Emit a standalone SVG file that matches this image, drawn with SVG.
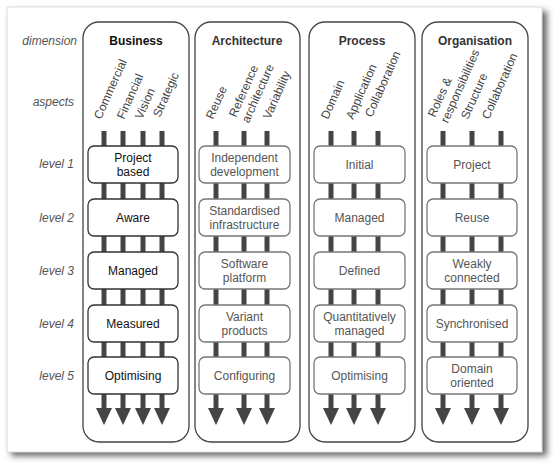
<svg xmlns="http://www.w3.org/2000/svg" width="554" height="465" viewBox="0 0 554 465">
<style>
text{font-family:"Liberation Sans",Arial,sans-serif;font-size:12px}
.side{font-style:italic;fill:#555;text-anchor:end}
.hdr{font-weight:bold;text-anchor:middle;fill:#333}
.cont{fill:none;stroke:#444;stroke-width:1.3}
.box{fill:#fff;stroke:#777;stroke-width:1.3}
.bbox{fill:#fff;stroke:#333;stroke-width:1.3}
.bt{text-anchor:middle;fill:#555}
.bbt{text-anchor:middle;fill:#111}
.asp{fill:#444}
.bar{stroke:#444;stroke-width:5}
.head{fill:#444}
</style>
<defs>
<filter id="sh" x="-5%" y="-5%" width="110%" height="110%"><feGaussianBlur stdDeviation="3"/></filter>
</defs>
<rect x="0" y="0" width="554" height="465" fill="#fff"/>
<rect x="11" y="11" width="536" height="445" fill="#666" filter="url(#sh)"/>
<rect x="7" y="7" width="535" height="445" fill="#fff" stroke="#ddd" stroke-width="1"/>

<g id="side-labels">
<text class="side" x="77" y="45">dimension</text>
<text class="side" x="74" y="106">aspects</text>
<text class="side" x="74" y="168">level 1</text>
<text class="side" x="74" y="222">level 2</text>
<text class="side" x="74" y="275">level 3</text>
<text class="side" x="74" y="328">level 4</text>
<text class="side" x="74" y="380">level 5</text>
</g>

<g id="connectors">
<line class="bar" x1="104" y1="131" x2="104" y2="409"/>
<line class="bar" x1="123" y1="131" x2="123" y2="409"/>
<line class="bar" x1="143" y1="131" x2="143" y2="409"/>
<line class="bar" x1="162" y1="131" x2="162" y2="409"/>
<line class="bar" x1="216" y1="131" x2="216" y2="409"/>
<line class="bar" x1="244" y1="131" x2="244" y2="409"/>
<line class="bar" x1="267" y1="131" x2="267" y2="409"/>
<line class="bar" x1="331" y1="131" x2="331" y2="409"/>
<line class="bar" x1="354" y1="131" x2="354" y2="409"/>
<line class="bar" x1="378" y1="131" x2="378" y2="409"/>
<line class="bar" x1="443" y1="131" x2="443" y2="409"/>
<line class="bar" x1="472" y1="131" x2="472" y2="409"/>
<line class="bar" x1="501" y1="131" x2="501" y2="409"/>
<polygon class="head" points="96,408 112,408 104,425"/>
<polygon class="head" points="115,408 131,408 123,425"/>
<polygon class="head" points="135,408 151,408 143,425"/>
<polygon class="head" points="154,408 170,408 162,425"/>
<polygon class="head" points="208,408 224,408 216,425"/>
<polygon class="head" points="236,408 252,408 244,425"/>
<polygon class="head" points="259,408 275,408 267,425"/>
<polygon class="head" points="323,408 339,408 331,425"/>
<polygon class="head" points="346,408 362,408 354,425"/>
<polygon class="head" points="370,408 386,408 378,425"/>
<polygon class="head" points="435,408 451,408 443,425"/>
<polygon class="head" points="464,408 480,408 472,425"/>
<polygon class="head" points="493,408 509,408 501,425"/>
</g>

<g id="business">
<rect class="cont" x="83" y="22" width="106" height="420" rx="16"/>
<text class="hdr" x="136" y="45" style="fill:#111">Business</text>
<text class="asp" transform="translate(101,120) rotate(-66)">Commercial</text>
<text class="asp" transform="translate(124,120) rotate(-66)">Financial</text>
<text class="asp" transform="translate(142,120) rotate(-66)">Vision</text>
<text class="asp" transform="translate(160,118) rotate(-66)">Strategic</text>
<g id="b1"><rect class="bbox" x="88" y="146" width="90" height="37" rx="6"/><text class="bbt" x="133" y="161.5">Project</text><text class="bbt" x="133" y="175.5">based</text></g>
<g id="b2"><rect class="bbox" x="88" y="199" width="90" height="37" rx="6"/><text class="bbt" x="133" y="221.5">Aware</text></g>
<g id="b3"><rect class="bbox" x="88" y="252" width="90" height="37" rx="6"/><text class="bbt" x="133" y="274.5">Managed</text></g>
<g id="b4"><rect class="bbox" x="88" y="305" width="90" height="37" rx="6"/><text class="bbt" x="133" y="327.5">Measured</text></g>
<g id="b5"><rect class="bbox" x="88" y="357" width="90" height="37" rx="6"/><text class="bbt" x="133" y="379.5">Optimising</text></g>
</g>

<g id="architecture">
<rect class="cont" x="195" y="22" width="105" height="420" rx="16"/>
<text class="hdr" x="247" y="45">Architecture</text>
<text class="asp" transform="translate(213,120) rotate(-66)">Reuse</text>
<text class="asp" transform="translate(236,118) rotate(-66)"><tspan x="0" y="0">Reference</tspan><tspan x="0" y="14">architecture</tspan></text>
<text class="asp" transform="translate(270,120) rotate(-66)">Variability</text>
<g id="a1"><rect class="box" x="199" y="146" width="91" height="37" rx="6"/><text class="bt" x="244.5" y="161.5">Independent</text><text class="bt" x="244.5" y="175.5">development</text></g>
<g id="a2"><rect class="box" x="199" y="199" width="91" height="37" rx="6"/><text class="bt" x="244.5" y="214.5">Standardised</text><text class="bt" x="244.5" y="228.5">infrastructure</text></g>
<g id="a3"><rect class="box" x="199" y="252" width="91" height="37" rx="6"/><text class="bt" x="244.5" y="267.5">Software</text><text class="bt" x="244.5" y="281.5">platform</text></g>
<g id="a4"><rect class="box" x="199" y="305" width="91" height="37" rx="6"/><text class="bt" x="244.5" y="320.5">Variant</text><text class="bt" x="244.5" y="334.5">products</text></g>
<g id="a5"><rect class="box" x="199" y="357" width="91" height="37" rx="6"/><text class="bt" x="244.5" y="379.5">Configuring</text></g>
</g>

<g id="process">
<rect class="cont" x="309" y="22" width="106" height="420" rx="16"/>
<text class="hdr" x="362" y="45">Process</text>
<text class="asp" transform="translate(328,120) rotate(-66)">Domain</text>
<text class="asp" transform="translate(353,120) rotate(-66)">Application</text>
<text class="asp" transform="translate(372,118) rotate(-66)">Collaboration</text>
<g id="p1"><rect class="box" x="314" y="146" width="91" height="37" rx="6"/><text class="bt" x="359.5" y="168.5">Initial</text></g>
<g id="p2"><rect class="box" x="314" y="199" width="91" height="37" rx="6"/><text class="bt" x="359.5" y="221.5">Managed</text></g>
<g id="p3"><rect class="box" x="314" y="252" width="91" height="37" rx="6"/><text class="bt" x="359.5" y="274.5">Defined</text></g>
<g id="p4"><rect class="box" x="314" y="305" width="91" height="37" rx="6"/><text class="bt" x="359.5" y="320.5">Quantitatively</text><text class="bt" x="359.5" y="334.5">managed</text></g>
<g id="p5"><rect class="box" x="314" y="357" width="91" height="37" rx="6"/><text class="bt" x="359.5" y="379.5">Optimising</text></g>
</g>

<g id="organisation">
<rect class="cont" x="422" y="22" width="106" height="420" rx="16"/>
<text class="hdr" x="475" y="45">Organisation</text>
<text class="asp" transform="translate(435,118) rotate(-66)"><tspan x="0" y="0">Roles &amp;</tspan><tspan x="0" y="14">responsibilities</tspan></text>
<text class="asp" transform="translate(468,120) rotate(-66)">Structure</text>
<text class="asp" transform="translate(489,120) rotate(-66)">Collaboration</text>
<g id="o1"><rect class="box" x="427" y="146" width="90" height="37" rx="6"/><text class="bt" x="472" y="168.5">Project</text></g>
<g id="o2"><rect class="box" x="427" y="199" width="90" height="37" rx="6"/><text class="bt" x="472" y="221.5">Reuse</text></g>
<g id="o3"><rect class="box" x="427" y="252" width="90" height="37" rx="6"/><text class="bt" x="472" y="267.5">Weakly</text><text class="bt" x="472" y="281.5">connected</text></g>
<g id="o4"><rect class="box" x="427" y="305" width="90" height="37" rx="6"/><text class="bt" x="472" y="327.5">Synchronised</text></g>
<g id="o5"><rect class="box" x="427" y="357" width="90" height="37" rx="6"/><text class="bt" x="472" y="372.5">Domain</text><text class="bt" x="472" y="386.5">oriented</text></g>
</g>
</svg>
